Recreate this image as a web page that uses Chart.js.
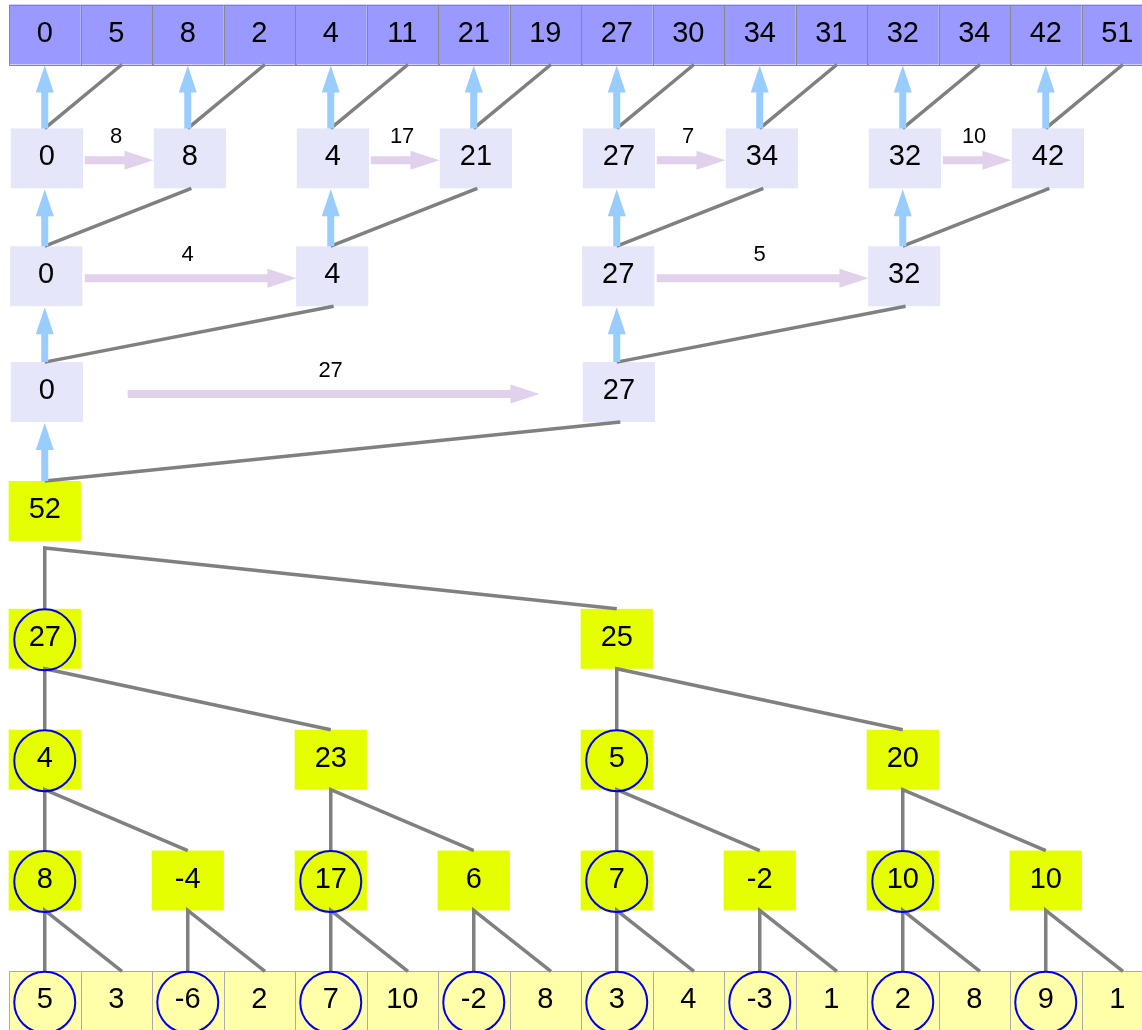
<!DOCTYPE html>
<html>
<head>
<meta charset="utf-8">
<title>Work-efficient scan (up-sweep / down-sweep)</title>
<script src="https://cdn.jsdelivr.net/npm/chart.js@4.4.1/dist/chart.umd.min.js"></script>
<style>
    html, body { margin: 0; padding: 0; background: #fff; }
    #wrap { width: 1142px; height: 1030px; overflow: hidden; }
</style>
</head>
<body>
<div id="wrap"><canvas id="scanChart" width="1142" height="1030"></canvas></div>
<script>
// ---- Values, top row to bottom row ----
const scanVals   = [0, 5, 8, 2, 4, 11, 21, 19, 27, 30, 34, 31, 32, 34, 42, 51];
const downLevel1 = [0, 8, 4, 21, 27, 34, 32, 42];
const downLevel2 = [0, 4, 27, 32];
const downLevel3 = [0, 27];
const totalVals  = [52];
const upLevel3   = [27, 25];
const upLevel2   = [4, 23, 5, 20];
const upLevel1   = [8, -4, 17, 6, 7, -2, 10, 10];
const inputVals  = [5, 3, -6, 2, 7, 10, -2, 8, 3, 4, -3, 1, 2, 8, 9, 1];

// numbers written over the horizontal (carry) arrows, per down-sweep level
const carryLabels1 = [8, 17, 7, 10];
const carryLabels2 = [4, 5];
const carryLabels3 = [27];

(function () {
    'use strict';

    const COLS = 16;
    const FONT = '"Liberation Sans", Arial, sans-serif';

    // row 0 = result strip, rows 1..3 down-sweep, 4 = total, 5..7 up-sweep, 8 = input strip
    // nudge = small pixel tweak of the row's vertical placement (the drawing isn't perfectly even)
    const ROWS = [
        { vals: scanVals,   kind: 'strip', fill: '#9999ff', grid: '#888888', nudge: 0 },
        { vals: downLevel1, kind: 'box',   fill: '#e6e6fa', carry: carryLabels1, nudge: 3, shift: 0.03 },
        { vals: downLevel2, kind: 'box',   fill: '#e6e6fa', carry: carryLabels2, nudge: 0, shift: 0.02 },
        { vals: downLevel3, kind: 'box',   fill: '#e6e6fa', carry: carryLabels3, inset: 0.6, nudge: -5, shift: 0.03 },
        { vals: totalVals,  kind: 'box',   fill: '#e6ff00', nudge: -7 },
        { vals: upLevel3,   kind: 'box',   fill: '#e6ff00', circles: true, nudge: 0 },
        { vals: upLevel2,   kind: 'box',   fill: '#e6ff00', circles: true, nudge: 0 },
        { vals: upLevel1,   kind: 'box',   fill: '#e6ff00', circles: true, nudge: 0 },
        { vals: inputVals,  kind: 'strip', fill: '#ffffaa', grid: '#aaaaaa', circles: true, nudge: 0 }
    ];

    const HH = 0.248;     // half box height, in row units
    const BOX_W = 1.01;   // box width, in column units
    const PX_ROW = 120.85; // pixels per row unit (from the y scale range below)

    const span = r => COLS / ROWS[r].vals.length;
    const col = (r, j) => j * span(r);
    const ny = r => ROWS[r].nudge / PX_ROW;   // nudge in row units

    // gray tree edges as one broken polyline
    function edgePoints() {
        const pts = [];
        // down-sweep side: each node reaches up to its right child
        for (let r = 1; r <= 4; r++) {
            ROWS[r].vals.forEach((v, j) => {
                const c = col(r, j), s = span(r);
                const target = ROWS[r - 1].shift || 0;
                pts.push({ x: c, y: r - HH + ny(r) });
                pts.push({ x: c + s / 2 + (r === 1 ? 0.08 : target + 0.02), y: r - 1 + HH + ny(r - 1) });
                pts.push({ x: c, y: null });
            });
        }
        // up-sweep side: each node hangs from its parent
        for (let r = 4; r <= 7; r++) {
            ROWS[r].vals.forEach((v, j) => {
                const c = col(r, j), s = span(r);
                const start = r + HH + ny(r) + (r === 4 ? 0.058 : 0);
                pts.push({ x: c, y: r + 1 - HH });
                pts.push({ x: c, y: start });
                pts.push({ x: c + s / 2 + (r === 7 ? 0.08 : 0), y: r + 1 - HH });
                pts.push({ x: c, y: null });
            });
        }
        return pts;
    }

    function arrow(ctx, x1, y1, x2, y2, shaft, headW, headL, color) {
        const dx = x2 - x1, dy = y2 - y1;
        const len = Math.hypot(dx, dy);
        const ux = dx / len, uy = dy / len;
        const px = -uy, py = ux;
        const bx = x2 - ux * headL, by = y2 - uy * headL;
        ctx.save();
        ctx.fillStyle = color;
        ctx.beginPath();
        ctx.moveTo(x1 + px * shaft / 2, y1 + py * shaft / 2);
        ctx.lineTo(bx + px * shaft / 2, by + py * shaft / 2);
        ctx.lineTo(bx + px * headW / 2, by + py * headW / 2);
        ctx.lineTo(x2, y2);
        ctx.lineTo(bx - px * headW / 2, by - py * headW / 2);
        ctx.lineTo(bx - px * shaft / 2, by - py * shaft / 2);
        ctx.lineTo(x1 - px * shaft / 2, y1 - py * shaft / 2);
        ctx.closePath();
        ctx.fill();
        ctx.restore();
    }

    const diagram = {
        id: 'scanDiagram',
        beforeDatasetsDraw(chart) {
            const { ctx, scales: { x, y } } = chart;
            ROWS.forEach((row, r) => {
                const top = y.getPixelForValue(r - HH) + row.nudge;
                const bot = y.getPixelForValue(r + HH) + row.nudge;
                row.vals.forEach((v, j) => {
                    const c = col(r, j) + (row.shift || 0);
                    const w = row.kind === 'strip' ? 1 : BOX_W;
                    const l = x.getPixelForValue(c - w / 2), rt = x.getPixelForValue(c + w / 2);
                    ctx.fillStyle = row.fill;
                    ctx.fillRect(l, top, rt - l, bot - top);
                    if (row.kind === 'strip') {
                        ctx.strokeStyle = row.grid;
                        ctx.lineWidth = 1;
                        ctx.strokeRect(Math.round(l) + 0.5, Math.round(top) + 0.5, Math.round(rt - l), Math.round(bot - top));
                    }
                });
            });
        },
        afterDatasetsDraw(chart) {
            const { ctx, scales: { x, y } } = chart;

            // blue arrows: value handed up to the left child
            for (let r = 1; r <= 4; r++) {
                ROWS[r].vals.forEach((v, j) => {
                    const px = x.getPixelForValue(col(r, j));
                    const y1 = y.getPixelForValue(r - HH) + ROWS[r].nudge;
                    const y2 = y.getPixelForValue(r - 1 + HH) + ROWS[r - 1].nudge + 1;
                    arrow(ctx, px, y1, px, y2, 7, 18, 27, '#99ccff');
                });
            }

            // lavender carry arrows with their labels
            ctx.textAlign = 'center';
            ctx.textBaseline = 'middle';
            for (let r = 1; r <= 3; r++) {
                const row = ROWS[r];
                const inset = row.inset || 0;
                for (let j = 0; j < row.vals.length; j += 2) {
                    const x1 = x.getPixelForValue(col(r, j) + 0.56 + inset);
                    const x2 = x.getPixelForValue(col(r, j + 1) - 0.48 - inset);
                    const ay = y.getPixelForValue(r) + row.nudge + 2;
                    arrow(ctx, x1, ay, x2, ay, 8, 19, 29, '#e1d1ec');
                    ctx.fillStyle = '#000';
                    ctx.font = '22px ' + FONT;
                    ctx.fillText(String(row.carry[j / 2]), (x1 + x2) / 2 - 3, ay - 23);
                }
            }

            // node values and circled left children
            ctx.font = '29px ' + FONT;
            ROWS.forEach((row, r) => {
                row.vals.forEach((v, j) => {
                    const cx = x.getPixelForValue(col(r, j) + (row.shift || 0));
                    const cy = y.getPixelForValue(r) + row.nudge;
                    if (row.circles && j % 2 === 0) {
                        ctx.beginPath();
                        ctx.arc(cx, cy + 1, 30.5, 0, Math.PI * 2);
                        ctx.strokeStyle = '#0000ee';
                        ctx.lineWidth = 2;
                        ctx.stroke();
                    }
                    ctx.fillStyle = '#000';
                    ctx.fillText(String(v), cx, cy - 1);
                });
            });
        }
    };

    function buildChart() {
        const datasets = ROWS.map((row, r) => ({
            label: 'row ' + r,
            data: row.vals.map((v, j) => ({ x: col(r, j), y: r })),
            pointRadius: 0,
            showLine: false
        }));
        datasets.push({
            label: 'edges',
            data: edgePoints(),
            showLine: true,
            spanGaps: false,
            borderColor: '#808080',
            borderWidth: 3.5,
            pointRadius: 0,
            fill: false
        });

        new Chart(document.getElementById('scanChart'), {
            type: 'scatter',
            data: { datasets },
            options: {
                responsive: false,
                animation: false,
                devicePixelRatio: 1,
                layout: { padding: 0 },
                plugins: { legend: { display: false }, tooltip: { enabled: false } },
                scales: {
                    x: { type: 'linear', min: -0.626, max: 15.346, display: false },
                    y: { type: 'linear', min: -0.2855, max: 8.237, reverse: true, display: false }
                }
            },
            plugins: [diagram]
        });
    }

    buildChart();
})();
</script>
</body>
</html>
